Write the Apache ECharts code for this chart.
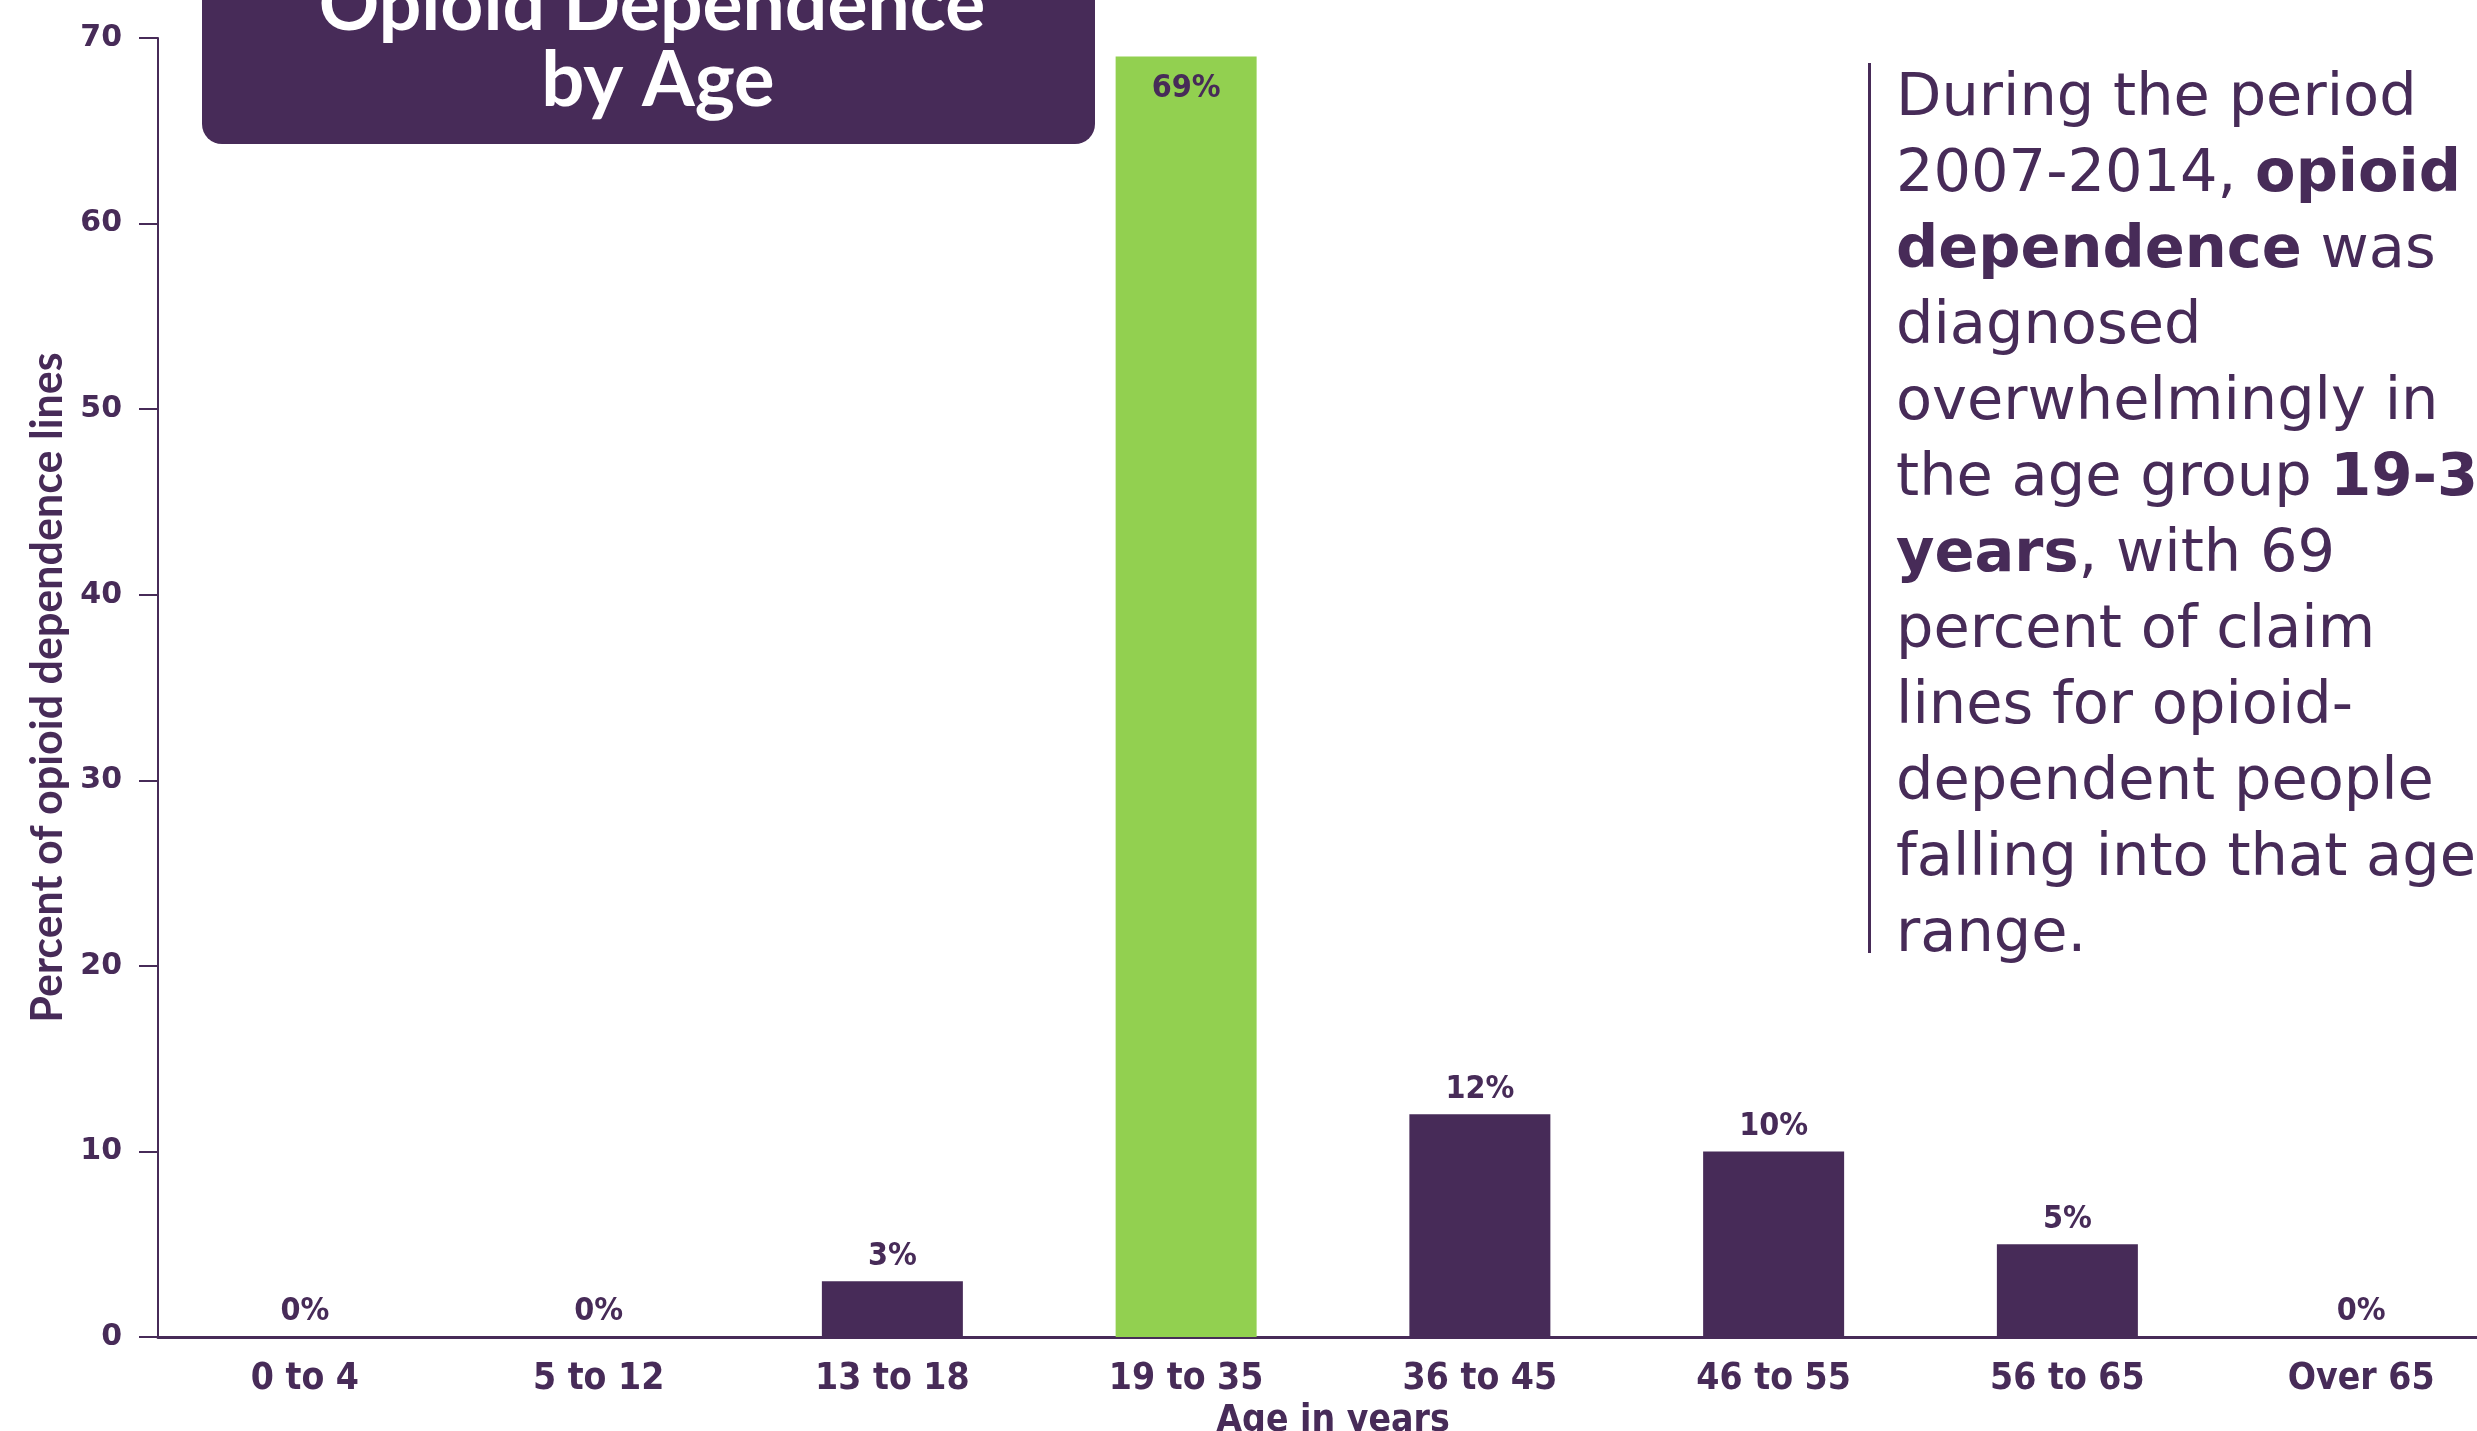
<!DOCTYPE html>
<html>
<head>
<meta charset="utf-8">
<title>Opioid Dependence by Age</title>
<script src="https://cdn.jsdelivr.net/npm/echarts@6/dist/echarts.min.js"></script>
<style>
  html, body { margin: 0; padding: 0; background: #ffffff; }
  #chart { width: 2477px; height: 1431px; }
</style>
</head>
<body>
<div id="chart"></div>
<script>
// age groups and share of opioid dependence claim lines (%)
const categories = ['0 to 4', '5 to 12', '13 to 18', '19 to 35', '36 to 45', '46 to 55', '56 to 65', 'Over 65'];
const values = [0, 0, 3, 69, 12, 10, 5, 0];
const highlight = '19 to 35';
const yTicks = [0, 10, 20, 30, 40, 50, 60, 70];

const purple = '#472b58';
const green = '#92d050';
const narrow = "'DejaVu Sans Condensed', 'Liberation Sans Narrow', 'Roboto', sans-serif";

const chart = echarts.init(document.getElementById('chart'));

const barData = values.map((v, i) => {
    const hot = categories[i] === highlight;
    return {
        value: v,
        itemStyle: { color: hot ? green : purple },
        label: hot ? { position: 'insideTop', distance: 16 } : {}
    };
});

const option = {
    backgroundColor: '#ffffff',
    animation: false,
    grid: {
        left: 158,
        top: 38,
        width: 2350,
        height: 1299,
        containLabel: false,
        outerBoundsMode: 'none'
    },
    xAxis: {
        type: 'category',
        data: categories,
        name: 'Age in years',
        nameLocation: 'middle',
        nameGap: 66,
        nameTextStyle: { color: purple, fontSize: 37, fontWeight: 'bold', fontFamily: narrow },
        axisLine: { lineStyle: { color: purple, width: 3 } },
        axisTick: { alignWithLabel: true, length: 19, lineStyle: { color: purple, width: 2 } },
        axisLabel: { margin: 24, color: purple, fontSize: 37, fontWeight: 'bold', fontFamily: narrow }
    },
    yAxis: {
        type: 'value',
        min: yTicks[0],
        max: yTicks[yTicks.length - 1],
        interval: 10,
        name: 'Percent of opioid dependence lines',
        nameLocation: 'middle',
        nameRotate: 90,
        nameGap: 72,
        nameTextStyle: { color: purple, fontSize: 43, fontWeight: 'bold', fontFamily: 'Lato, sans-serif' },
        splitLine: { show: false },
        axisLine: { show: true, lineStyle: { color: purple, width: 2 } },
        axisTick: { show: true, length: 19, lineStyle: { color: purple, width: 2 } },
        axisLabel: { margin: 36, color: purple, fontSize: 30, fontWeight: 'bold', fontFamily: "'DejaVu Sans', sans-serif" }
    },
    series: [{
        type: 'bar',
        data: barData,
        barWidth: 141,
        label: {
            show: true,
            position: 'top',
            distance: 9,
            formatter: '{c}%',
            color: purple,
            fontSize: 32,
            fontWeight: 'bold',
            fontFamily: narrow
        }
    }],
    graphic: [
        // title box, runs off the top edge
        {
            type: 'rect',
            shape: { x: 202, y: -60, width: 893, height: 204, r: 20 },
            style: { fill: purple },
            z: 10
        },
        {
            type: 'text',
            x: 652,
            y: 43,
            style: {
                text: 'Opioid Dependence',
                fill: '#ffffff',
                font: "bold 75px Lato, sans-serif",
                align: 'center',
                verticalAlign: 'bottom'
            },
            z: 11
        },
        {
            type: 'text',
            x: 658,
            y: 119,
            style: {
                text: 'by Age',
                fill: '#ffffff',
                font: "bold 76px Lato, sans-serif",
                align: 'center',
                verticalAlign: 'bottom'
            },
            z: 11
        },
        // side note
        {
            type: 'rect',
            shape: { x: 1868, y: 63, width: 3, height: 890 },
            style: { fill: purple }
        },
        {
            type: 'text',
            x: 1896,
            y: 62,
            style: {
                text: [
                    '{n|During the period}',
                    '{n|2007-2014, }{b|opioid}',
                    '{b|dependence}{n| was}',
                    '{n|diagnosed}',
                    '{n|overwhelmingly in}',
                    '{n|the age group }{b|19-35}',
                    '{b|years}{n|, with 69}',
                    '{n|percent of claim}',
                    '{n|lines for opioid-}',
                    '{n|dependent people}',
                    '{n|falling into that age}',
                    '{n|range.}'
                ].join('\n'),
                fill: purple,
                rich: {
                    n: { fontSize: 59, lineHeight: 76, fontFamily: "'DejaVu Sans', sans-serif", fill: purple },
                    b: { fontSize: 59, lineHeight: 76, fontFamily: "'DejaVu Sans', sans-serif", fontWeight: 'bold', fill: purple }
                }
            }
        }
    ]
};

chart.setOption(option);
</script>
</body>
</html>
